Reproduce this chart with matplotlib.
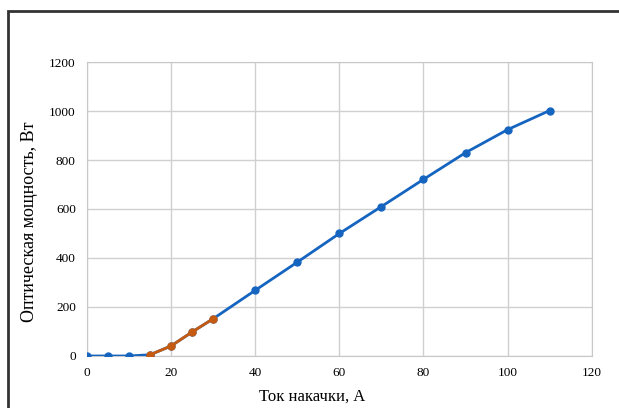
import matplotlib.pyplot as plt
from matplotlib.patches import Rectangle

# main curve
current = [0, 5, 10, 15, 20, 25, 30, 40, 50, 60, 70, 80, 90, 100, 110]
power = [0, 0, 0, 5, 41, 98, 152, 268, 383, 500, 610, 721, 830, 924, 1002]

# threshold region
current_thr = [15, 20, 25, 30]
power_thr = [5, 41, 98, 152]

x_ticks = [0, 20, 40, 60, 80, 100, 120]
y_ticks = [0, 200, 400, 600, 800, 1000, 1200]

plt.rcParams['font.family'] = ['Liberation Serif', 'DejaVu Serif']

fig = plt.figure(figsize=(6.19, 4.08), dpi=100)
ax = fig.add_axes([0.1405, 0.1275, 0.8155, 0.7205])

ax.plot(current, power, color='#1565C0', linewidth=2, marker='o', markersize=5, zorder=3)
ax.plot(current_thr, power_thr, color='#C55A11', linewidth=2, marker='o', markersize=5, zorder=4)

ax.set_xlim(0, 120)
ax.set_ylim(0, 1200)
ax.set_xticks(x_ticks)
ax.set_yticks(y_ticks)
ax.grid(True, color='#d0d0d0', linewidth=1)
ax.set_axisbelow(True)
for s in ax.spines.values():
    s.set_color('#c8c8c8')
ax.tick_params(length=0, labelsize=9.5, pad=8)

ax.set_xlabel('Ток накачки, А', fontsize=12)
ax.set_ylabel('Оптическая мощность, Вт', fontsize=13)
ax.xaxis.set_label_coords(0.4455, -0.112)
ax.yaxis.set_label_coords(-0.097, 0.457)

# outer frame
fig.patches.append(Rectangle((8 / 619, -0.05), 1.2, 1 - 11 / 408 + 0.05,
                             transform=fig.transFigure, fill=False,
                             edgecolor='#333333', linewidth=2))

fig.savefig('out.png', dpi=100, facecolor='white')
